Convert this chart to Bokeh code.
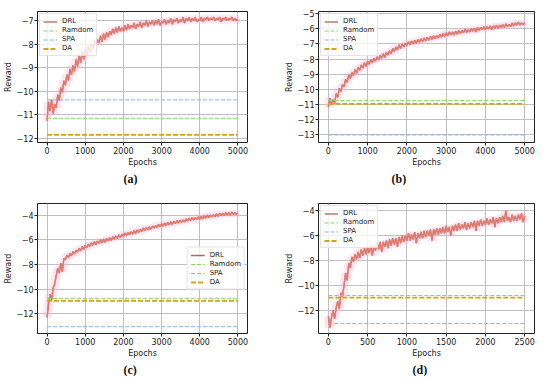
from bokeh.plotting import figure
from bokeh.models import Legend, LegendItem, Range1d, FixedTicker, Title
from bokeh.layouts import gridplot
from bokeh.embed import file_html
from bokeh.resources import INLINE

# ---------------- data ----------------
epochs_5000 = list(range(0, 5001, 40))
epochs_2500 = list(range(0, 2501, 20))

drl_a = [-11.25, -10.45, -10.85, -10.35, -10.95, -10.55, -10.70, -10.15, -10.40, -9.85,
         -10.05, -9.55, -9.75, -9.30, -9.55, -9.05, -9.30, -8.90, -9.15, -8.65,
         -8.95, -8.45, -8.80, -8.30, -8.65, -8.20, -8.50, -8.05, -8.35, -7.95,
         -8.20, -7.85, -8.05, -7.80, -7.95, -7.65, -7.90, -7.55, -7.80, -7.50,
         -7.70, -7.45, -7.60, -7.35, -7.55, -7.30, -7.50, -7.25, -7.45, -7.30,
         -7.45, -7.20, -7.40, -7.15, -7.35, -7.20, -7.30, -7.10, -7.35, -7.15,
         -7.25, -7.05, -7.30, -7.10, -7.20, -7.00, -7.25, -7.05, -7.15, -7.00,
         -7.20, -7.00, -7.15, -6.95, -7.20, -7.05, -7.10, -6.95, -7.15, -7.00,
         -7.10, -6.90, -7.15, -6.95, -7.05, -6.90, -7.10, -6.95, -7.05, -6.85,
         -7.10, -6.90, -7.00, -6.85, -7.05, -6.90, -7.00, -6.85, -7.05, -6.95,
         -7.00, -6.85, -7.05, -6.90, -6.95, -6.85, -7.00, -6.90, -6.95, -6.85,
         -7.00, -6.90, -6.95, -6.85, -7.05, -6.90, -6.95, -6.85, -7.00, -6.90,
         -6.95, -6.85, -7.00, -6.90, -7.00, -6.95]

drl_b = [-11.20, -10.60, -11.05, -10.70, -10.95, -10.30, -10.55, -9.95, -10.15, -9.70,
         -9.85, -9.35, -9.55, -9.05, -9.30, -8.90, -9.10, -8.70, -8.95, -8.55,
         -8.75, -8.40, -8.60, -8.25, -8.50, -8.15, -8.35, -8.05, -8.25, -7.95,
         -8.15, -7.85, -8.05, -7.75, -7.95, -7.65, -7.90, -7.55, -7.75, -7.45,
         -7.65, -7.30, -7.50, -7.20, -7.40, -7.05, -7.30, -7.00, -7.20, -6.95,
         -7.10, -6.85, -7.05, -6.80, -7.00, -6.75, -6.95, -6.70, -6.90, -6.65,
         -6.85, -6.60, -6.80, -6.55, -6.75, -6.50, -6.70, -6.45, -6.65, -6.45,
         -6.60, -6.35, -6.55, -6.30, -6.50, -6.25, -6.45, -6.20, -6.40, -6.20,
         -6.40, -6.15, -6.35, -6.10, -6.30, -6.10, -6.25, -6.00, -6.25, -6.05,
         -6.20, -6.00, -6.15, -5.95, -6.20, -5.90, -6.10, -5.90, -6.05, -5.85,
         -6.05, -5.85, -6.00, -5.80, -6.05, -5.80, -5.95, -5.75, -5.95, -5.75,
         -5.90, -5.70, -5.90, -5.65, -5.85, -5.70, -5.85, -5.60, -5.80, -5.60,
         -5.75, -5.55, -5.75, -5.60, -5.70, -5.60]

drl_c = [-12.30, -11.20, -10.40, -10.90, -9.90, -9.60, -8.90, -8.30, -8.70, -7.90,
         -8.60, -7.50, -7.60, -7.25, -7.45, -7.10, -7.30, -6.95, -7.15, -6.85,
         -7.00, -6.70, -6.90, -6.55, -6.80, -6.45, -6.65, -6.35, -6.55, -6.25,
         -6.45, -6.15, -6.40, -6.10, -6.30, -6.00, -6.25, -5.95, -6.20, -5.90,
         -6.10, -5.85, -6.05, -5.75, -5.95, -5.70, -5.90, -5.60, -5.80, -5.55,
         -5.75, -5.45, -5.65, -5.40, -5.60, -5.35, -5.55, -5.25, -5.50, -5.20,
         -5.40, -5.15, -5.35, -5.05, -5.25, -5.00, -5.20, -4.95, -5.15, -4.90,
         -5.05, -4.85, -5.00, -4.75, -4.95, -4.70, -4.90, -4.65, -4.85, -4.60,
         -4.80, -4.55, -4.75, -4.50, -4.70, -4.45, -4.65, -4.40, -4.60, -4.40,
         -4.55, -4.30, -4.50, -4.25, -4.45, -4.20, -4.40, -4.20, -4.35, -4.15,
         -4.35, -4.10, -4.30, -4.05, -4.25, -4.00, -4.20, -4.00, -4.15, -3.95,
         -4.15, -3.90, -4.10, -3.85, -4.05, -3.85, -4.05, -3.80, -4.00, -3.80,
         -4.00, -3.75, -3.95, -3.80, -3.95, -3.85]

drl_d = [-12.50, -13.40, -12.60, -12.00, -12.70, -11.80, -11.30, -11.90, -10.60, -10.90,
         -10.00, -9.00, -9.60, -8.20, -8.60, -7.70, -8.10, -7.50, -7.90, -7.30,
         -7.80, -7.10, -7.60, -7.00, -7.50, -6.90, -7.40, -6.80, -7.60, -6.80,
         -7.20, -6.60, -7.10, -6.50, -7.30, -6.50, -6.90, -6.40, -7.00, -6.30,
         -6.80, -6.20, -6.70, -6.20, -6.90, -6.10, -6.60, -6.00, -6.50, -6.00,
         -6.40, -5.80, -6.40, -5.90, -6.30, -5.70, -6.60, -5.80, -6.20, -5.70,
         -6.20, -5.60, -6.10, -5.60, -6.00, -5.50, -6.40, -5.50, -5.90, -5.40,
         -5.90, -5.40, -5.80, -5.30, -5.80, -5.20, -5.70, -5.30, -6.00, -5.20,
         -5.60, -5.10, -5.60, -5.00, -5.50, -5.10, -5.40, -4.90, -5.50, -5.00,
         -5.40, -4.90, -5.30, -4.80, -5.60, -4.80, -5.20, -4.70, -5.20, -4.80,
         -5.10, -4.60, -5.10, -4.70, -5.00, -4.50, -5.30, -4.60, -5.00, -4.50,
         -4.90, -4.40, -4.90, -4.00, -4.80, -4.50, -4.90, -4.30, -4.80, -4.40,
         -4.80, -4.30, -4.70, -4.20, -4.90, -4.40]

# baselines: [Random, SPA, DA]
base_a = [-11.15, -10.37, -11.86]
base_b = [-10.76, -13.05, -10.98]
base_c = [-10.75, -13.05, -10.95]
base_d = [-10.82, -13.07, -10.98]

series_names = ["DRL", "Ramdom", "SPA", "DA"]
captions = ["(a)", "(b)", "(c)", "(d)"]

xticks_5000 = [0, 1000, 2000, 3000, 4000, 5000]
xticks_2500 = [0, 500, 1000, 1500, 2000, 2500]
yticks_a = [-12, -11, -10, -9, -8, -7]
yticks_b = [-13, -12, -11, -10, -9, -8, -7, -6, -5]
yticks_cd = [-12, -10, -8, -6, -4]

# ---------------- styles ----------------
C_DRL = "#f07a72"
C_DRL2 = "#a07058"
C_HALO = "#ffb3da"
C_RAND = "#8fd46a"
C_SPA = "#8fb2e3"
C_DA = "#cfa90c"
FONT = "DejaVu Sans"


def minus(v):
    return ("\u2212" + str(abs(v))) if v < 0 else str(v)


def panel(x, y, base, xr, yr, xt, yt, loc, cap, w, h, bl, br, bt, cap_off):
    p = figure(width=w, height=h, output_backend="svg", toolbar_location=None,
               x_range=Range1d(*xr), y_range=Range1d(*yr),
               min_border_left=bl, min_border_right=br, min_border_top=bt,
               min_border_bottom=0)
    p.background_fill_color = "white"
    p.border_fill_color = "white"
    p.outline_line_color = "#222222"
    p.outline_line_width = 1
    for ax in (p.xaxis[0], p.yaxis[0]):
        ax.axis_line_color = None
        ax.major_tick_out = 3
        ax.major_tick_in = 0
        ax.minor_tick_line_color = None
        ax.major_tick_line_color = "#222222"
        ax.major_label_text_font = FONT
        ax.major_label_text_font_size = "8px"
        ax.major_label_text_color = "#222222"
        ax.major_label_standoff = 1
        ax.axis_label_text_font = FONT
        ax.axis_label_text_font_size = "8px"
        ax.axis_label_text_font_style = "normal"
        ax.axis_label_text_color = "#222222"
        ax.axis_label_standoff = 1
    p.xaxis[0].ticker = FixedTicker(ticks=xt)
    p.yaxis[0].ticker = FixedTicker(ticks=yt)
    p.yaxis[0].major_label_overrides = {v: minus(v) for v in yt}
    p.xaxis[0].axis_label = "Epochs"
    p.yaxis[0].axis_label = "Reward"
    p.grid.grid_line_color = "#b0b0b0"
    p.grid.grid_line_width = 0.8

    p.line(x, y, line_color=C_HALO, line_width=9, line_alpha=0.35)
    r_drl = p.line(x, y, line_color=C_DRL2, line_width=1.3)
    p.line(x, y, line_color=C_DRL, line_width=1.5, line_alpha=0.8)
    xs = [x[0], x[-1]]
    r_rand = p.line(xs, [base[0], base[0]], line_color=C_RAND, line_width=1.0, line_dash="4 2")
    r_spa = p.line(xs, [base[1], base[1]], line_color=C_SPA, line_width=1.0, line_dash="4 2")
    r_da = p.line(xs, [base[2], base[2]], line_color=C_DA, line_width=1.8, line_dash="5 2")

    leg = Legend(items=[LegendItem(label=series_names[0], renderers=[r_drl]),
                        LegendItem(label=series_names[1], renderers=[r_rand]),
                        LegendItem(label=series_names[2], renderers=[r_spa]),
                        LegendItem(label=series_names[3], renderers=[r_da])],
                 location=loc)
    leg.label_text_font = FONT
    leg.label_text_font_size = "7px"
    leg.label_text_color = "#222222"
    leg.label_height = 7
    leg.glyph_height = 7
    leg.glyph_width = 14
    leg.label_standoff = 5
    leg.spacing = 1
    leg.padding = 3
    leg.margin = 2
    leg.border_line_color = "#cccccc"
    leg.background_fill_alpha = 0.8
    p.add_layout(leg)

    t = Title(text=cap, align="left", text_font="Liberation Serif",
              text_font_size="12px", text_font_style="bold", text_color="#111111",
              offset=cap_off, standoff=0)
    p.add_layout(t, "below")
    return p


pa = panel(epochs_5000, drl_a, base_a, (-250, 5250), (-12.18, -6.61), xticks_5000, yticks_a,
           "top_left", captions[0], 281, 185, 5, 34, 11, 86)
pb = panel(epochs_5000, drl_b, base_b, (-250, 5250), (-13.55, -4.84), xticks_5000, yticks_b,
           "top_left", captions[1], 269, 185, 5, 16, 8, 73)
pc = panel(epochs_5000, drl_c, base_c, (-250, 5250), (-13.6, -3.06), xticks_5000, yticks_cd,
           "center_right", captions[2], 281, 191, 5, 34, 18, 86)
pd_ = panel(epochs_2500, drl_d, base_d, (-125, 2625), (-13.88, -3.4), xticks_2500, yticks_cd,
            "top_left", captions[3], 269, 191, 5, 16, 18, 94)

grid = gridplot([[pa, pb], [pc, pd_]], toolbar_location=None)
open("out.html", "w").write(file_html(grid, INLINE))
